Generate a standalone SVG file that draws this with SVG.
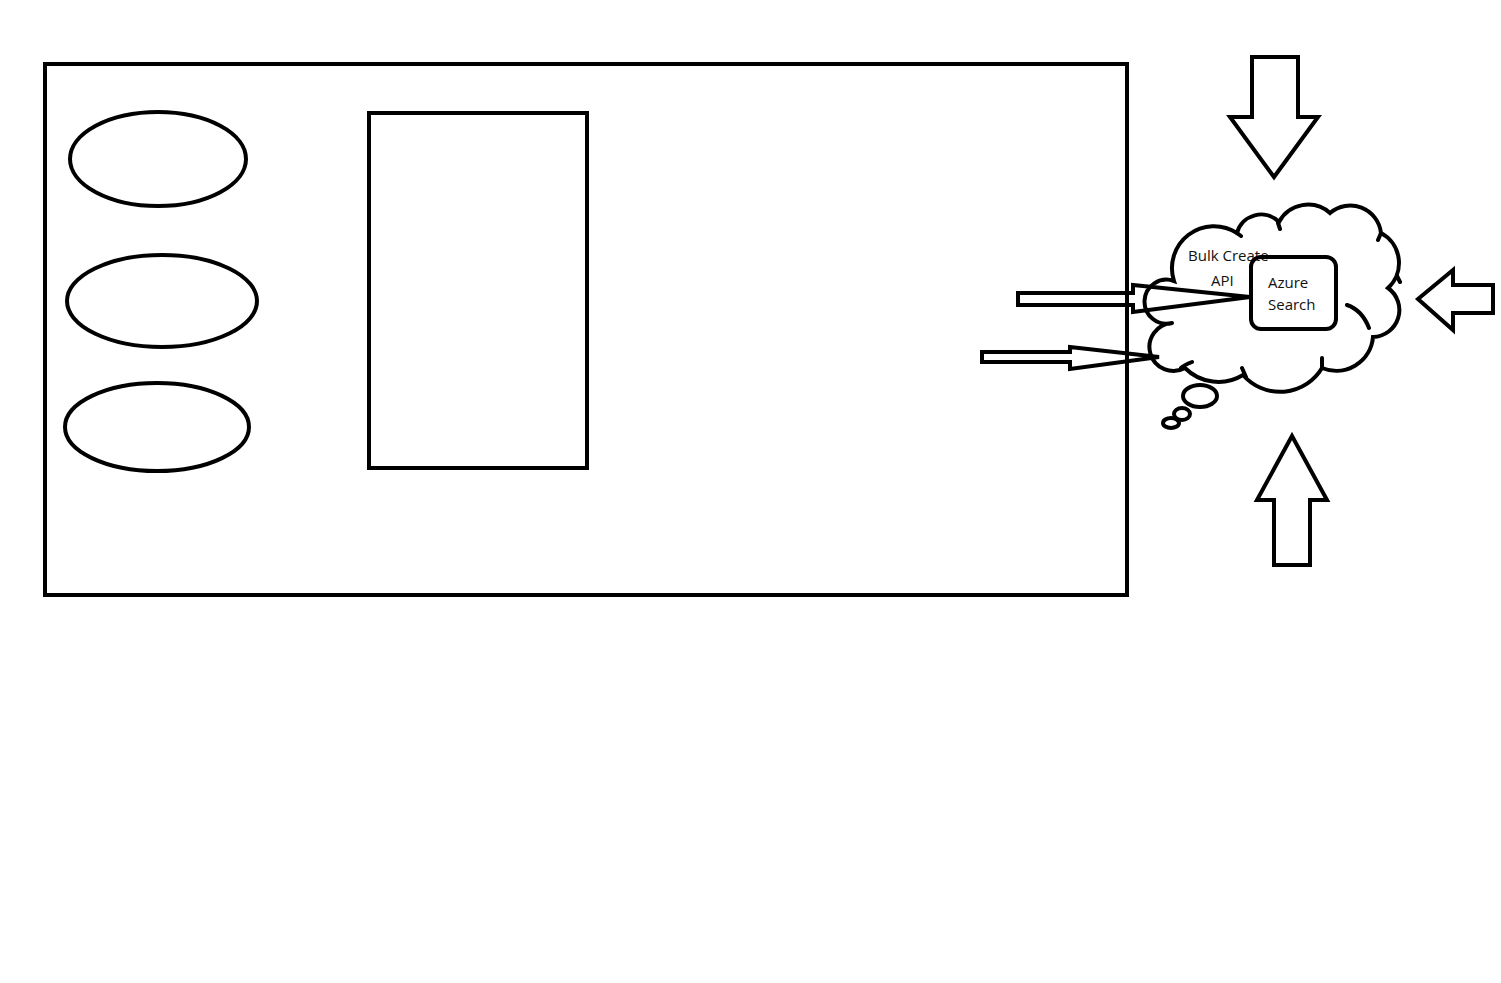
<svg xmlns="http://www.w3.org/2000/svg" width="1501" height="983" viewBox="0 0 1501 983">
<style>
.s{fill:none;stroke:#000;stroke-width:4;stroke-linejoin:miter}
.c{fill:none;stroke:#000;stroke-width:4;stroke-linecap:round}
.t{font-family:"Open Sans","Noto Sans","DejaVu Sans",sans-serif;font-size:15px;fill:#111}
</style>
<rect width="1501" height="983" fill="#fff"/>
<g id="container"><rect class="s" x="45" y="64" width="1082" height="531"/></g>
<g id="ellipse1"><ellipse class="s" cx="158" cy="159" rx="88" ry="47"/></g>
<g id="ellipse2"><ellipse class="s" cx="162" cy="301" rx="95" ry="46"/></g>
<g id="ellipse3"><ellipse class="s" cx="157" cy="427" rx="92" ry="44"/></g>
<g id="inner-rect"><rect class="s" x="369" y="113" width="218" height="355"/></g>
<g id="cloud">
<path class="c" d="M1172 323 A22 22 0 1 1 1174 281 A42 42 0 0 1 1237 233 A25 25 0 0 1 1279 222 A33 33 0 0 1 1330 213 A31 31 0 0 1 1381 233 A34 34 0 0 1 1388 288 A27 27 0 0 1 1373 337 A37 37 0 0 1 1322 368 A49 49 0 0 1 1243 375 A47 47 0 0 1 1185 368 A24 24 0 1 1 1172 323"/>
<path class="c" d="M1347 305 Q1362 310 1369 328 M1322 358 L1322 368 M1242 368 L1246 377 M1192 362 Q1184 365 1181 368 M1237 233 L1241 236 M1278 223 L1280 229 M1381 233 L1378 240 M1397 276 L1400 282"/>
<ellipse class="s" cx="1200" cy="396" rx="17" ry="11"/>
<ellipse class="s" cx="1182" cy="414" rx="8" ry="6"/>
<ellipse class="s" cx="1171" cy="423" rx="8" ry="5"/>
<text class="t" x="1188" y="261">Bulk Create</text>
<text class="t" x="1211" y="286">API</text>
</g>
<g id="azure-search">
<rect class="s" x="1251" y="257" width="85" height="72" rx="10"/>
<text class="t" x="1268" y="288">Azure</text>
<text class="t" x="1268" y="310">Search</text>
</g>
<g id="connectors">
<polygon class="s" points="1018,293 1133,293 1133,285 1250,297 1133,312 1133,305 1018,305"/>
<polygon class="s" points="982,352 1070,352 1070,347 1159,357 1070,369 1070,362 982,362"/>
<polygon class="s" points="1252,57 1298,57 1298,117 1318,117 1274,177 1230,117 1252,117"/>
<polygon class="s" points="1292,436 1327,500 1310,500 1310,565 1274,565 1274,500 1257,500"/>
<polygon class="s" points="1418,299 1453,270 1453,285 1493,285 1493,313 1453,313 1453,330"/>
</g>
</svg>
